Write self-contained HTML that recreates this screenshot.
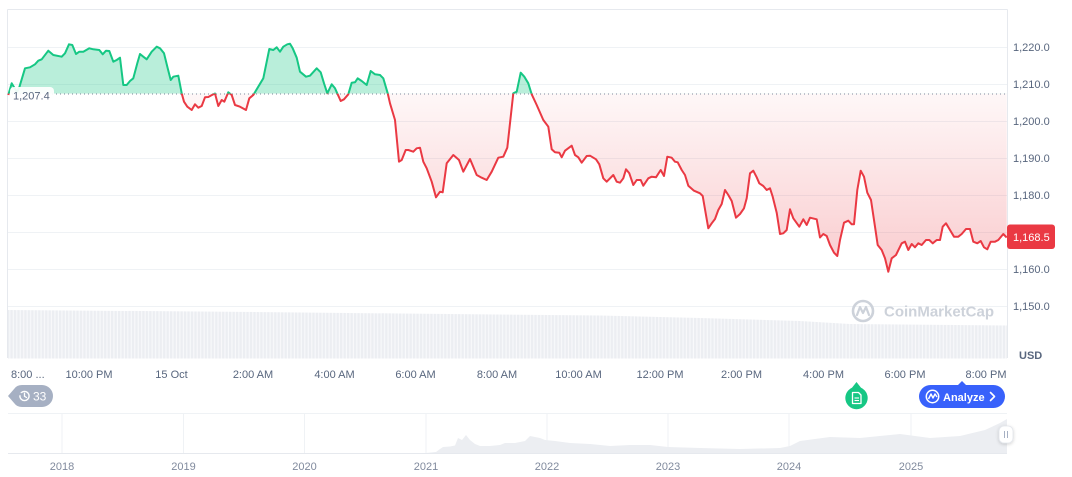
<!DOCTYPE html>
<html>
<head>
<meta charset="utf-8">
<style>
  html,body{margin:0;padding:0;background:#fff;}
  svg{display:block;font-family:"Liberation Sans",Arial,sans-serif;}
</style>
</head>
<body>
<svg width="1072" height="477" viewBox="0 0 1072 477" xmlns="http://www.w3.org/2000/svg" xmlns:xlink="http://www.w3.org/1999/xlink">
  <defs>
    <clipPath id="above"><rect x="0" y="0" width="1072" height="93.6"/></clipPath>
    <clipPath id="below"><rect x="0" y="93.6" width="1072" height="300"/></clipPath>
    <linearGradient id="redg" gradientUnits="userSpaceOnUse" x1="0" y1="94" x2="0" y2="272">
      <stop offset="0" stop-color="#ea3943" stop-opacity="0.04"/>
      <stop offset="1" stop-color="#ea3943" stop-opacity="0.26"/>
    </linearGradient>
    <pattern id="vol" patternUnits="userSpaceOnUse" width="3.47" height="60">
      <rect x="0" y="0" width="3.47" height="60" fill="#f8f9fb"/>
      <rect x="0" y="0" width="2.3" height="60" fill="#eceef2"/>
    </pattern>
    <filter id="sh" x="-50%" y="-50%" width="200%" height="200%">
      <feDropShadow dx="0" dy="1" stdDeviation="1.5" flood-color="#000" flood-opacity="0.18"/>
    </filter>
    <path id="pts" d="M8.3,95 L11.7,83.3 L13.3,86 L17,92 L19.3,87.3 L25,68.3 L30,67.3 L35,64.3 L38.3,60.7 L41.7,59.3 L48.3,50.7 L53.3,55 L61.7,56.7 L65,53.3 L69,44.3 L72.3,45 L76,54 L79.3,51.7 L83.3,51.7 L89.3,48.3 L93.3,49.3 L99.3,50 L102.7,54.3 L106,50.7 L109.3,51 L113.3,61.7 L116.7,60 L120,57.7 L123.3,85 L126.7,85 L130,81 L133.3,78.3 L137.3,63.3 L140,54 L143.3,56.7 L146.7,59.3 L151.7,51.7 L156.7,46.7 L160,48.3 L164,53.3 L167.7,68.3 L170.7,80 L173.3,76.7 L178.3,75.7 L181.7,93.3 L184,101.7 L187.3,106.7 L191.7,110 L195,104.3 L198.3,107.7 L201.7,106 L205,97.3 L208.3,97 L213.3,94.3 L215,93.5 L218.3,106 L221.7,100 L224.3,101.7 L228.3,92.3 L231.7,95 L235,105 L240,106.7 L246,110 L249.3,98.3 L253.3,95 L263.3,78.3 L269.3,49 L273.3,50 L276.7,47.3 L280,51.7 L283.3,46.7 L287.3,44.3 L290,43.7 L292.7,48.3 L296.7,57.7 L300,71.7 L306,76.7 L310,75.7 L316.7,68.3 L320.7,72.3 L324,83.3 L327.3,93.3 L331.7,84.3 L335,88.3 L340.7,101 L344,99.3 L348.3,94.3 L351.7,82.7 L355,82.3 L357.7,78.3 L361.7,81 L366.7,85 L370.7,71 L375,74.3 L380,75 L383.3,78.3 L387.7,93.3 L390,103.3 L395,120 L399,161.7 L401.7,160 L405.7,150 L408.3,150 L413.3,151.7 L416.7,148.3 L420,147.7 L423.3,161.7 L426.7,168.3 L431.7,181.7 L436,197.3 L440,191.7 L442.7,192.3 L446.7,163.3 L453.3,155 L459,160 L463.3,171.7 L470,159 L476.7,175 L481.7,177.7 L486.7,180 L491.7,171.7 L498.3,157.7 L503.3,156.7 L507.3,147.7 L513.3,93.3 L516.7,91.7 L520.7,72.7 L524.3,76.7 L528.3,83.3 L531.7,94.3 L536.7,105 L543.3,120 L548.3,126.7 L551.7,149.3 L555,152.3 L559.3,152.7 L561.7,157.3 L565,150.7 L571.7,145.7 L575,155 L578.3,157.3 L581.7,162.7 L586.7,156 L590,155.7 L596,159.3 L599.3,164.3 L603.3,178.3 L606.7,181.7 L613.3,175 L616.7,181.7 L620,182.7 L623.3,178.3 L626,169.3 L629.3,173.3 L633.3,185 L636.7,180 L640.7,180 L643.3,185.7 L648.3,178.3 L651.7,176.7 L656,177.3 L660.7,170 L664,176 L667.3,156.7 L671.7,157.7 L675,161.7 L677.7,162.3 L681.7,170 L685,175 L688.3,185.7 L694,190.7 L700,193.3 L702.7,196 L708.3,228.3 L711.7,223.3 L715,219 L718.3,210 L721.7,204 L725,190 L728.3,195 L731.7,201 L736,217.7 L740,214 L744,208.3 L746.7,198.3 L750,173.3 L753.3,170.7 L756.7,177.3 L759.3,183.3 L763.3,186 L766.7,190 L770,188.3 L772.7,196.7 L776.7,212.7 L780,234 L783.3,233.3 L786.7,230 L790,209.3 L793.3,218.3 L799.3,226.7 L803.3,219.3 L806.7,225 L810,217.7 L816.7,219.3 L820,237.5 L823.3,234 L826.7,236 L830,245 L834,252.7 L837.3,256 L840,240 L844,222.7 L848.3,220.7 L851.7,224.3 L854,224.3 L857.3,190 L860.7,170.7 L864,176.7 L867.3,192.7 L871,200 L875,226.7 L877.7,245 L881.7,250 L885,258.3 L888.3,271.7 L891.7,258.3 L896,255 L901.7,243.3 L905,241.7 L908.3,250 L911.7,244 L915,247.3 L918.3,243.3 L921.7,245 L926,240 L929.3,240 L932.7,243.3 L936.7,240 L940,240 L942.7,226.7 L946,223.3 L950,230 L954,236.7 L958.3,236.7 L961.7,234 L966,229 L970,229 L973.3,241.7 L977.3,243.3 L980.7,241 L984,247.3 L987.3,249.3 L990.7,241.7 L995,241.7 L998.3,240 L1003.3,234 L1006.7,237.5"/>
    <path id="area" d="M8.3,93.6 L8.3,95 L11.7,83.3 L13.3,86 L17,92 L19.3,87.3 L25,68.3 L30,67.3 L35,64.3 L38.3,60.7 L41.7,59.3 L48.3,50.7 L53.3,55 L61.7,56.7 L65,53.3 L69,44.3 L72.3,45 L76,54 L79.3,51.7 L83.3,51.7 L89.3,48.3 L93.3,49.3 L99.3,50 L102.7,54.3 L106,50.7 L109.3,51 L113.3,61.7 L116.7,60 L120,57.7 L123.3,85 L126.7,85 L130,81 L133.3,78.3 L137.3,63.3 L140,54 L143.3,56.7 L146.7,59.3 L151.7,51.7 L156.7,46.7 L160,48.3 L164,53.3 L167.7,68.3 L170.7,80 L173.3,76.7 L178.3,75.7 L181.7,93.3 L184,101.7 L187.3,106.7 L191.7,110 L195,104.3 L198.3,107.7 L201.7,106 L205,97.3 L208.3,97 L213.3,94.3 L215,93.5 L218.3,106 L221.7,100 L224.3,101.7 L228.3,92.3 L231.7,95 L235,105 L240,106.7 L246,110 L249.3,98.3 L253.3,95 L263.3,78.3 L269.3,49 L273.3,50 L276.7,47.3 L280,51.7 L283.3,46.7 L287.3,44.3 L290,43.7 L292.7,48.3 L296.7,57.7 L300,71.7 L306,76.7 L310,75.7 L316.7,68.3 L320.7,72.3 L324,83.3 L327.3,93.3 L331.7,84.3 L335,88.3 L340.7,101 L344,99.3 L348.3,94.3 L351.7,82.7 L355,82.3 L357.7,78.3 L361.7,81 L366.7,85 L370.7,71 L375,74.3 L380,75 L383.3,78.3 L387.7,93.3 L390,103.3 L395,120 L399,161.7 L401.7,160 L405.7,150 L408.3,150 L413.3,151.7 L416.7,148.3 L420,147.7 L423.3,161.7 L426.7,168.3 L431.7,181.7 L436,197.3 L440,191.7 L442.7,192.3 L446.7,163.3 L453.3,155 L459,160 L463.3,171.7 L470,159 L476.7,175 L481.7,177.7 L486.7,180 L491.7,171.7 L498.3,157.7 L503.3,156.7 L507.3,147.7 L513.3,93.3 L516.7,91.7 L520.7,72.7 L524.3,76.7 L528.3,83.3 L531.7,94.3 L536.7,105 L543.3,120 L548.3,126.7 L551.7,149.3 L555,152.3 L559.3,152.7 L561.7,157.3 L565,150.7 L571.7,145.7 L575,155 L578.3,157.3 L581.7,162.7 L586.7,156 L590,155.7 L596,159.3 L599.3,164.3 L603.3,178.3 L606.7,181.7 L613.3,175 L616.7,181.7 L620,182.7 L623.3,178.3 L626,169.3 L629.3,173.3 L633.3,185 L636.7,180 L640.7,180 L643.3,185.7 L648.3,178.3 L651.7,176.7 L656,177.3 L660.7,170 L664,176 L667.3,156.7 L671.7,157.7 L675,161.7 L677.7,162.3 L681.7,170 L685,175 L688.3,185.7 L694,190.7 L700,193.3 L702.7,196 L708.3,228.3 L711.7,223.3 L715,219 L718.3,210 L721.7,204 L725,190 L728.3,195 L731.7,201 L736,217.7 L740,214 L744,208.3 L746.7,198.3 L750,173.3 L753.3,170.7 L756.7,177.3 L759.3,183.3 L763.3,186 L766.7,190 L770,188.3 L772.7,196.7 L776.7,212.7 L780,234 L783.3,233.3 L786.7,230 L790,209.3 L793.3,218.3 L799.3,226.7 L803.3,219.3 L806.7,225 L810,217.7 L816.7,219.3 L820,237.5 L823.3,234 L826.7,236 L830,245 L834,252.7 L837.3,256 L840,240 L844,222.7 L848.3,220.7 L851.7,224.3 L854,224.3 L857.3,190 L860.7,170.7 L864,176.7 L867.3,192.7 L871,200 L875,226.7 L877.7,245 L881.7,250 L885,258.3 L888.3,271.7 L891.7,258.3 L896,255 L901.7,243.3 L905,241.7 L908.3,250 L911.7,244 L915,247.3 L918.3,243.3 L921.7,245 L926,240 L929.3,240 L932.7,243.3 L936.7,240 L940,240 L942.7,226.7 L946,223.3 L950,230 L954,236.7 L958.3,236.7 L961.7,234 L966,229 L970,229 L973.3,241.7 L977.3,243.3 L980.7,241 L984,247.3 L987.3,249.3 L990.7,241.7 L995,241.7 L998.3,240 L1003.3,234 L1006.7,237.5 L1006.7,93.6 Z"/>
  </defs>

  <!-- grid lines -->
  <g stroke="#eff2f5" stroke-width="1">
    <line x1="8" y1="47.5" x2="1007" y2="47.5"/>
    <line x1="8" y1="84.5" x2="1007" y2="84.5"/>
    <line x1="8" y1="121.5" x2="1007" y2="121.5"/>
    <line x1="8" y1="158.5" x2="1007" y2="158.5"/>
    <line x1="8" y1="195.5" x2="1007" y2="195.5"/>
    <line x1="8" y1="232.5" x2="1007" y2="232.5"/>
    <line x1="8" y1="269.5" x2="1007" y2="269.5"/>
    <line x1="8" y1="306.5" x2="1007" y2="306.5"/>
  </g>
  <!-- plot border -->
  <g stroke="#e6e9ee" stroke-width="1" fill="none">
    <line x1="7.5" y1="9.5" x2="1007.5" y2="9.5"/>
    <line x1="7.5" y1="9.5" x2="7.5" y2="358"/>
    <line x1="1007.5" y1="9.5" x2="1007.5" y2="358"/>
  </g>

  <!-- volume bars -->
  <path d="M8,310 L200,311.5 L400,313.5 L600,315.5 L700,318 L800,321 L850,324 L1007,325.5 L1007,358.5 L8,358.5 Z" fill="url(#vol)"/>

  <!-- watermark -->
  <g>
    <circle cx="863" cy="311" r="10" fill="none" stroke="#cdd2da" stroke-width="2.6"/>
    <path d="M857,315 L860,307 L863,313 L866,307 L869,315" fill="none" stroke="#cdd2da" stroke-width="2.2" stroke-linejoin="round" stroke-linecap="round"/>
    <text x="884" y="316.5" font-size="15" font-weight="bold" fill="#cdd2da">CoinMarketCap</text>
  </g>

  <!-- area fills -->
  <use xlink:href="#area" href="#area" fill="rgba(22,199,132,0.3)" clip-path="url(#above)"/>
  <use xlink:href="#area" href="#area" fill="url(#redg)" clip-path="url(#below)"/>

  <!-- baseline dotted -->
  <line x1="8" y1="94" x2="1007" y2="94" stroke="#808a9d" stroke-width="1" stroke-dasharray="1 3"/>

  <!-- line -->
  <use xlink:href="#pts" href="#pts" fill="none" stroke="#16c784" stroke-width="2" stroke-linejoin="round" clip-path="url(#above)"/>
  <use xlink:href="#pts" href="#pts" fill="none" stroke="#ea3943" stroke-width="2" stroke-linejoin="round" clip-path="url(#below)"/>

  <!-- baseline label -->
  <rect x="10" y="87" width="44" height="17" rx="4" fill="#ffffff" fill-opacity="0.92"/>
  <text x="13" y="99.5" font-size="11" fill="#58667e">1,207.4</text>

  <!-- y axis labels -->
  <g font-size="11" fill="#58667e">
    <text x="1013" y="51">1,220.0</text>
    <text x="1013" y="88">1,210.0</text>
    <text x="1013" y="125">1,200.0</text>
    <text x="1013" y="162">1,190.0</text>
    <text x="1013" y="199">1,180.0</text>
    <text x="1013" y="273">1,160.0</text>
    <text x="1013" y="310">1,150.0</text>
    <text x="1019" y="359" font-weight="bold">USD</text>
  </g>
  <!-- price tag -->
  <rect x="1007" y="224.5" width="48" height="24.5" rx="3" fill="#ea3943"/>
  <text x="1013" y="241" font-size="11" fill="#ffffff">1,168.5</text>

  <!-- x axis labels -->
  <g font-size="11" fill="#58667e" text-anchor="middle">
    <text x="11" y="378" text-anchor="start">8:00 ...</text>
    <text x="89" y="378">10:00 PM</text>
    <text x="171.5" y="378">15 Oct</text>
    <text x="253" y="378">2:00 AM</text>
    <text x="334.5" y="378">4:00 AM</text>
    <text x="415.5" y="378">6:00 AM</text>
    <text x="497" y="378">8:00 AM</text>
    <text x="578.5" y="378">10:00 AM</text>
    <text x="660" y="378">12:00 PM</text>
    <text x="741.5" y="378">2:00 PM</text>
    <text x="823.5" y="378">4:00 PM</text>
    <text x="905" y="378">6:00 PM</text>
    <text x="986" y="378">8:00 PM</text>
  </g>

  <!-- history badge -->
  <path d="M8,396 L14.5,388.5 Q17,385 22,385 L42,385 A11,11 0 0 1 42,407 L22,407 Q17,407 14.5,403.5 Z" fill="#a6b0c3"/>
  <circle cx="24.5" cy="396" r="4.6" fill="none" stroke="#fff" stroke-width="1.4"/>
  <path d="M24.5,393.3 L24.5,396.3 L26.5,397.5" fill="none" stroke="#fff" stroke-width="1.3" stroke-linecap="round"/>
  <path d="M18.6,393 L20,394.6 L21.5,393.2" fill="#a6b0c3" stroke="#a6b0c3" stroke-width="1.5"/>
  <text x="33" y="400.5" font-size="12" fill="#ffffff">33</text>

  <!-- green news marker -->
  <path d="M851,389 L856.5,382 L862,389 Z" fill="#16c784"/>
  <circle cx="856.5" cy="398" r="11.2" fill="#16c784"/>
  <path d="M852.5,392.5 L858.5,392.5 L861,395 L861,403.5 L852.5,403.5 Z" fill="none" stroke="#fff" stroke-width="1.3" stroke-linejoin="round"/>
  <line x1="854.5" y1="398" x2="859" y2="398" stroke="#fff" stroke-width="1.1"/>
  <line x1="854.5" y1="400.5" x2="859" y2="400.5" stroke="#fff" stroke-width="1.1"/>

  <!-- Analyze button -->
  <path d="M957,386 L962,381 L967,386 Z" fill="#3861fb"/>
  <rect x="919" y="385" width="86" height="23" rx="11.5" fill="#3861fb"/>
  <circle cx="932.5" cy="396.5" r="6.2" fill="none" stroke="#fff" stroke-width="1.5"/>
  <path d="M928.5,399 L931,394 L933,398 L935,394 L937,397" fill="none" stroke="#fff" stroke-width="1.4" stroke-linejoin="round"/>
  <text x="943" y="401" font-size="11" font-weight="bold" fill="#ffffff">Analyze</text>
  <path d="M990.5,392.5 L994.5,396.5 L990.5,400.5" fill="none" stroke="#fff" stroke-width="1.6" stroke-linecap="round" stroke-linejoin="round"/>

  <!-- navigator -->
  <line x1="8" y1="413.5" x2="1007" y2="413.5" stroke="#eff2f5" stroke-width="1"/>
  <g stroke="#eff2f5" stroke-width="1">
    <line x1="62" y1="413" x2="62" y2="453"/>
    <line x1="183.5" y1="413" x2="183.5" y2="453"/>
    <line x1="304.5" y1="413" x2="304.5" y2="453"/>
    <line x1="426" y1="413" x2="426" y2="453"/>
    <line x1="547" y1="413" x2="547" y2="453"/>
    <line x1="668" y1="413" x2="668" y2="453"/>
    <line x1="789" y1="413" x2="789" y2="453"/>
    <line x1="911" y1="413" x2="911" y2="453"/>
  </g>
  <path d="M426,453 L436,452 L440,449 L443,447 L450,446.5 L455,445.5 L458,438 L462,440 L466,435 L470,440 L475,444 L480,446 L490,446 L500,445 L505,443 L515,443 L525,441 L530,436 L535,437 L540,438 L545,440 L555,441 L570,443 L590,444 L610,446 L630,445 L650,445 L668,447 L700,448 L740,449 L780,448 L790,446 L800,441 L830,437 L860,438 L880,436 L900,434 L930,438 L960,436 L985,430 L1000,423 L1007,419 L1007,453 Z" fill="#eceef2"/>
  <line x1="8" y1="453.5" x2="1007" y2="453.5" stroke="#e6e9ee" stroke-width="1"/>
  <g font-size="11" fill="#808a9d" text-anchor="middle">
    <text x="62" y="470">2018</text>
    <text x="183.5" y="470">2019</text>
    <text x="304.5" y="470">2020</text>
    <text x="426" y="470">2021</text>
    <text x="547" y="470">2022</text>
    <text x="668" y="470">2023</text>
    <text x="789" y="470">2024</text>
    <text x="911" y="470">2025</text>
  </g>
  <!-- handle -->
  <rect x="999" y="426" width="14" height="17" rx="5" fill="#ffffff" stroke="#e3e6ec" stroke-width="0.8" filter="url(#sh)"/>
  <line x1="1004.5" y1="431" x2="1004.5" y2="438" stroke="#a6b0c3" stroke-width="1"/>
  <line x1="1007.5" y1="431" x2="1007.5" y2="438" stroke="#a6b0c3" stroke-width="1"/>
</svg>
</body>
</html>
